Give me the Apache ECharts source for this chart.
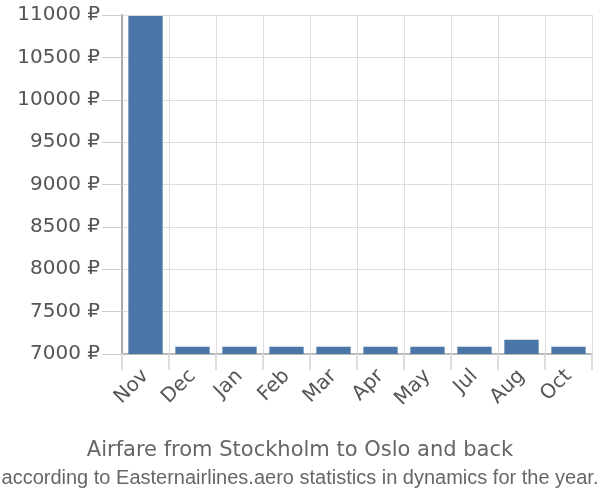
<!DOCTYPE html>
<html><head><meta charset="utf-8">
<script src="https://cdn.jsdelivr.net/npm/echarts@6/dist/echarts.min.js"></script>
<style>html,body{margin:0;padding:0;background:#fff}#c{width:600px;height:500px}</style>
</head><body><div id="c"></div>
<script>
const categories = ['Nov','Dec','Jan','Feb','Mar','Apr','May','Jul','Aug','Oct'];
const prices = [10988, 7086, 7086, 7086, 7086, 7086, 7086, 7086, 7169, 7086];
const titleText = 'Airfare from Stockholm to Oslo and back';
const subtitleText = 'according to Easternairlines.aero statistics in dynamics for the year.';

const chart = echarts.init(document.getElementById('c'));
chart.setOption({
  animation: false,
  textStyle: { fontFamily: 'DejaVu Sans' },
  grid: { left: 122, right: 8, top: 15, bottom: 146 },
  title: [
    { text: titleText, left: 'center', top: 435, textStyle: { fontSize: 21, fontWeight: 'normal', color: '#666', fontFamily: 'DejaVu Sans' } },
    { text: subtitleText, left: 'center', top: 463, textStyle: { fontSize: 20, fontWeight: 'normal', color: '#666', fontFamily: 'Liberation Sans' } }
  ],
  xAxis: {
    type: 'category', data: categories,
    axisLine: { show: true, lineStyle: { color: '#bbb', width: 2 } },
    axisTick: { show: true, length: 16, lineStyle: { color: '#ddd', width: 2 } },
    splitLine: { show: true, lineStyle: { color: '#ddd', width: 1 } },
    axisLabel: { rotate: 45, fontSize: 20, color: '#555', margin: 19, fontFamily: 'DejaVu Sans' }
  },
  yAxis: {
    type: 'value', min: 7000, max: 11000, interval: 500,
    axisLine: { show: true, lineStyle: { color: '#aaa', width: 2 } },
    axisTick: { show: true, length: 20, lineStyle: { color: '#ccc' } },
    splitLine: { show: true, lineStyle: { color: '#ddd' } },
    axisLabel: { fontSize: 20, color: '#555', margin: 22, fontFamily: 'DejaVu Sans', formatter: v => v + ' ₽' }
  },
  series: [{
    type: 'bar', data: prices, barCategoryGap: '27%',
    itemStyle: { color: '#4a76a8' }
  }]
});
</script></body></html>
